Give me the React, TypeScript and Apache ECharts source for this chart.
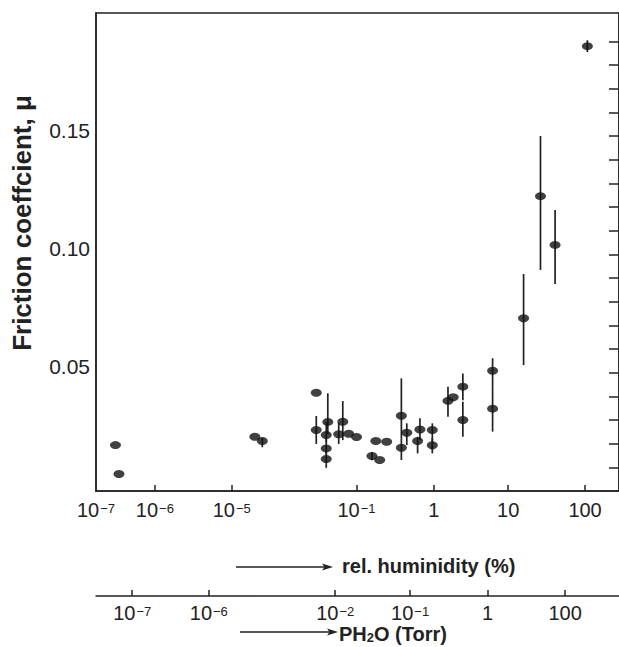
import React, { useEffect, useRef } from 'react';
import * as echarts from 'echarts';

// ---- data ----
// log10 of relative humidity (%) for each measured point
const logRH = [-6.67, -6.61, -4.26, -4.02, -2.29, -2.29, -1.92, -1.97, -1.97, -1.97, -1.57, -1.44, -1.25, -1.0, -0.8, -0.75, -0.7, -0.61, -0.42, -0.42, -0.35, -0.21, -0.18, -0.02, -0.02, 0.19, 0.26, 0.39, 0.39, 0.79, 0.79, 1.2, 1.42, 1.61, 2.03];
// friction coefficient
const mu = [0.0194, 0.0072, 0.0229, 0.0211, 0.0415, 0.0258, 0.0292, 0.0237, 0.018, 0.0135, 0.024, 0.0293, 0.0242, 0.0228, 0.0148, 0.0211, 0.0131, 0.0208, 0.0318, 0.0183, 0.0246, 0.0211, 0.026, 0.0258, 0.0193, 0.0381, 0.0396, 0.0441, 0.03, 0.0508, 0.0348, 0.073, 0.1246, 0.104, 0.188];
// error bar ends (null = no bar)
const muLow = [null, null, null, 0.0185, null, 0.0199, 0.024, 0.0205, 0.015, 0.0098, 0.0199, 0.0215, null, null, 0.013, null, null, null, 0.022, 0.0131, 0.0194, 0.0159, 0.0215, 0.0173, 0.0159, 0.0314, null, 0.0384, 0.0229, 0.044, 0.0251, 0.0532, 0.0934, 0.0875, 0.1855];
const muHigh = [null, null, null, 0.0225, null, 0.0317, 0.0413, 0.029, 0.023, 0.017, 0.0287, 0.038, null, null, 0.0165, null, null, null, 0.0476, 0.022, 0.0286, 0.0229, 0.0307, 0.0286, 0.0223, 0.0441, null, 0.0497, 0.0377, 0.0561, 0.044, 0.0917, 0.15, 0.1187, 0.1905];

// broken (schematic) humidity axis: decade exponents and where they sit along the axis
const rhTickExp = [-7, -6, -5, -1, 0, 1, 2];
const rhTickPos = [0, 59, 136, 261, 338.5, 413, 490];
// partial pressure axis (Torr)
const pTickExp = [-7, -6, -2, -1, 0, 2];
const pTickPos = [36.3, 113, 239.7, 314.7, 392.3, 470];

const yLabelValues = [0.05, 0.1, 0.15];
const yMinorTicks = [0.01, 0.02, 0.03, 0.04, 0.05, 0.06, 0.07, 0.08, 0.09, 0.1, 0.11, 0.12, 0.13, 0.14, 0.15, 0.16, 0.17, 0.18, 0.19];

const FONT = '"Liberation Sans", Arial, Helvetica, sans-serif';
const INK = '#222';

function toPos(lg: number): number {
  const e = rhTickExp, p = rhTickPos;
  let i = 0;
  while (i < e.length - 2 && lg > e[i + 1]) i++;
  return p[i] + ((lg - e[i]) / (e[i + 1] - e[i])) * (p[i + 1] - p[i]);
}

function expLabel(exp: number): string {
  if (exp === 0) return '{b|1}';
  if (exp === 1) return '{b|10}';
  if (exp === 2) return '{b|100}';
  return '{b|10}{sup|\u2212' + Math.abs(exp) + '}';
}

function makeFormatter(pos: number[], exps: number[]) {
  return (v: number) => {
    for (let i = 0; i < pos.length; i++) if (Math.abs(pos[i] - v) < 0.01) return expLabel(exps[i]);
    return '';
  };
}

const richStyles = {
  b: { fontSize: 20, fontFamily: FONT, color: INK, lineHeight: 16 },
  sup: { fontSize: 13, fontFamily: FONT, color: INK, lineHeight: 10, verticalAlign: 'top', padding: [0, 0, 0, 1] },
};

export default function App() {
  const ref = useRef<HTMLDivElement>(null);
  useEffect(() => {
    if (!ref.current) return;
    const chart = echarts.init(ref.current, null, { renderer: 'svg' });
    const points = logRH.map((l, i) => [toPos(l), mu[i]]);
    const bars: number[][] = [];
    logRH.forEach((l, i) => {
      if (muLow[i] != null && muHigh[i] != null) bars.push([toPos(l), muLow[i] as number, muHigh[i] as number]);
    });
    const axisLine = { show: true, lineStyle: { color: INK, width: 1.5 } };
    chart.setOption({
      animation: false,
      grid: [
        { left: 96, right: -1, top: 13, bottom: 156, show: true, borderColor: INK, borderWidth: 1.5, backgroundColor: 'transparent' },
        { left: 96, right: -1, top: 590, height: 6 },
      ],
      xAxis: [
        {
          type: 'value', gridIndex: 0, min: 0, max: 524,
          axisLine,
          axisTick: { show: true, inside: true, length: 6, customValues: rhTickPos.slice(1), lineStyle: { color: INK, width: 1.5 } },
          axisLabel: { customValues: rhTickPos, formatter: makeFormatter(rhTickPos, rhTickExp), rich: richStyles, margin: 11, hideOverlap: false, showMinLabel: true, showMaxLabel: true },
          splitLine: { show: false },
        },
        {
          type: 'value', gridIndex: 1, min: 0, max: 524, position: 'bottom',
          axisLine,
          axisTick: { show: true, inside: true, length: 6, customValues: pTickPos, lineStyle: { color: INK, width: 1.5 } },
          axisLabel: { customValues: pTickPos, formatter: makeFormatter(pTickPos, pTickExp), rich: richStyles, margin: 9, hideOverlap: false },
          splitLine: { show: false },
        },
      ],
      yAxis: [
        {
          type: 'value', gridIndex: 0, min: 0, max: 0.202,
          axisLine,
          axisTick: { show: false },
          axisLabel: { customValues: yLabelValues, formatter: (v: number) => v.toFixed(2), fontSize: 21, fontFamily: FONT, color: INK, margin: 6, verticalAlign: 'bottom', lineHeight: 12 },
          splitLine: { show: false },
        },
        {
          type: 'value', gridIndex: 0, min: 0, max: 0.202, position: 'right',
          axisLine,
          axisTick: { show: true, inside: true, length: 10, customValues: yMinorTicks, lineStyle: { color: INK, width: 1.5 } },
          axisLabel: { show: false },
          splitLine: { show: false },
        },
        { type: 'value', gridIndex: 1, show: false, min: 0, max: 1 },
      ],
      series: [
        {
          type: 'custom', xAxisIndex: 0, yAxisIndex: 0, z: 2,
          data: bars,
          encode: { x: 0, y: [1, 2] },
          renderItem: (params: any, api: any) => {
            const a = api.coord([api.value(0), api.value(1)]);
            const b = api.coord([api.value(0), api.value(2)]);
            return { type: 'line', shape: { x1: a[0], y1: a[1], x2: b[0], y2: b[1] }, style: { stroke: INK, lineWidth: 1.7 } };
          },
        },
        {
          type: 'scatter', xAxisIndex: 0, yAxisIndex: 0, z: 3,
          symbol: 'circle', symbolSize: [11, 8],
          itemStyle: { color: '#111' },
          data: points,
        },
      ],
      graphic: [
        { type: 'text', x: 22, y: 223, rotation: Math.PI / 2, style: { text: 'Friction coeffcient, \u03bc', fontSize: 26, fontWeight: 'bold', fontFamily: FONT, fill: INK, align: 'center', verticalAlign: 'middle' } },
        { type: 'line', shape: { x1: 236, y1: 567, x2: 327, y2: 567 }, style: { stroke: INK, lineWidth: 1.5 } },
        { type: 'polygon', shape: { points: [[322, 563.5], [333, 567], [322, 570.5], [324.5, 567]] }, style: { fill: INK } },
        { type: 'text', x: 342, y: 566, style: { text: 'rel. huminidity (%)', fontSize: 20, fontWeight: 'bold', fontFamily: FONT, fill: INK, align: 'left', verticalAlign: 'middle' } },
        { type: 'line', shape: { x1: 240, y1: 632, x2: 331, y2: 632 }, style: { stroke: INK, lineWidth: 1.5 } },
        { type: 'polygon', shape: { points: [[327, 628.5], [338, 632], [327, 635.5], [329.5, 632]] }, style: { fill: INK } },
        {
          type: 'text', x: 339, y: 634,
          style: {
            text: '{m|PH}{s|2}{m|O (Torr)}', fill: INK, align: 'left', verticalAlign: 'middle',
            rich: {
              m: { fontSize: 20, fontWeight: 'bold', fontFamily: FONT, fill: INK, lineHeight: 20 },
              s: { fontSize: 13, fontWeight: 'bold', fontFamily: FONT, fill: INK, lineHeight: 8, verticalAlign: 'bottom' },
            },
          },
        },
      ],
    });
    return () => chart.dispose();
  }, []);
  return <div ref={ref} style={{ position: 'fixed', left: 0, top: 0, width: 619, height: 647, background: '#fff' }} />;
}
